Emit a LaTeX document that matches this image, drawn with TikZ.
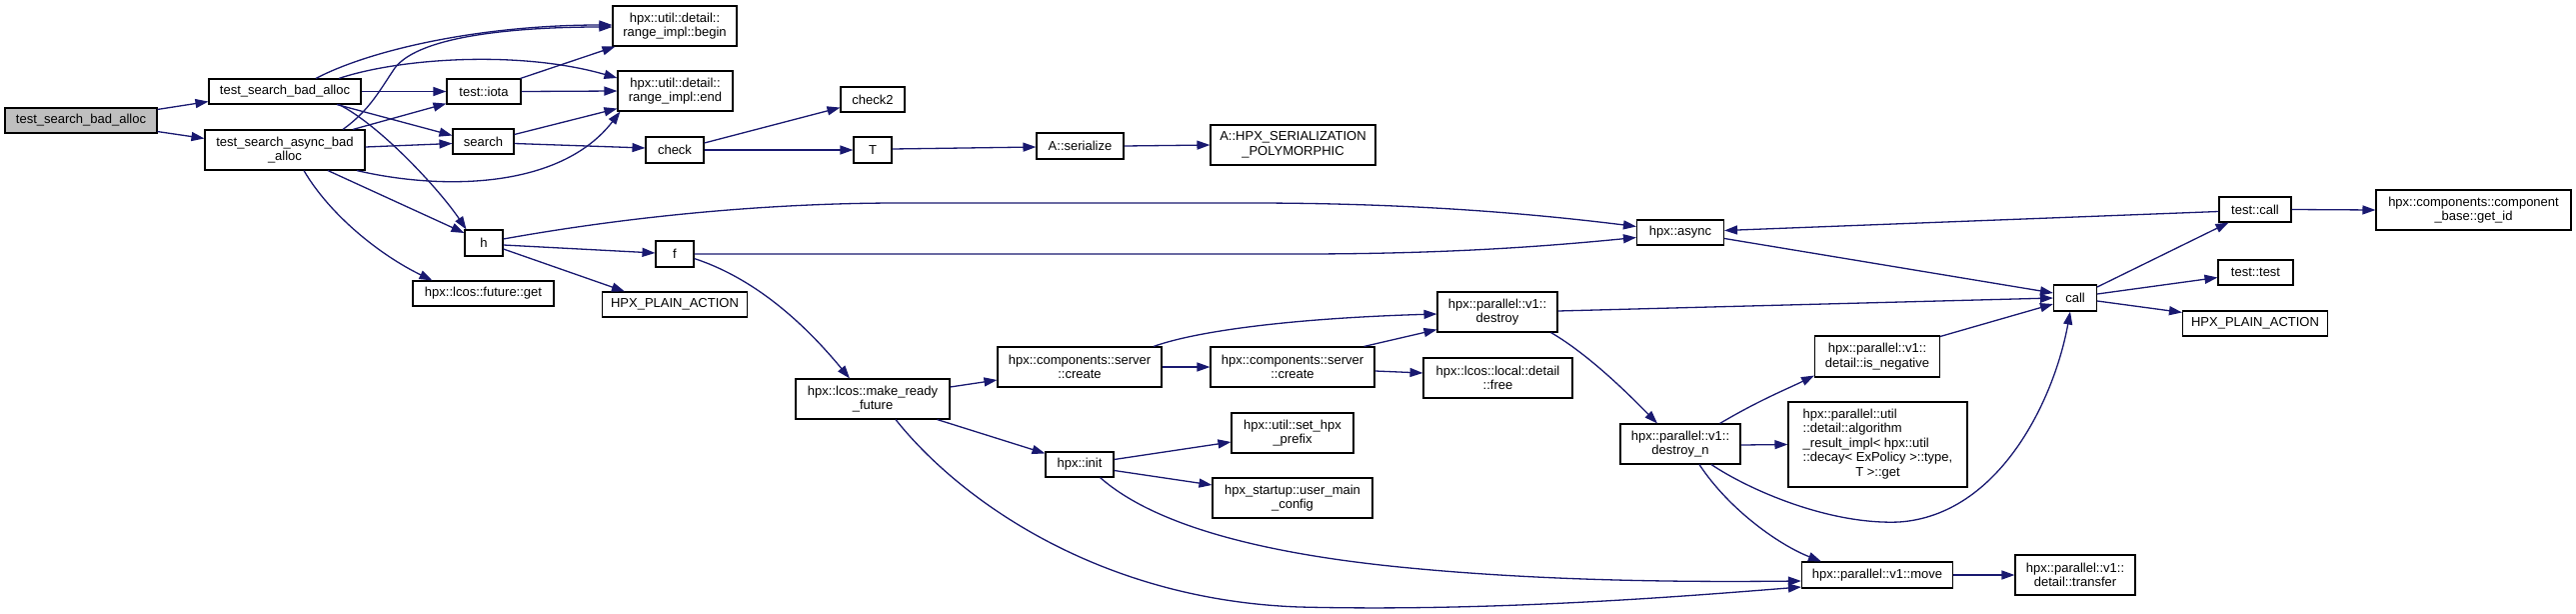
\documentclass[tikz,border=0pt]{standalone}
\usepackage{fontspec}
\setmainfont{Liberation Sans}
\usetikzlibrary{arrows.meta,calc}
\definecolor{edgeblue}{RGB}{25,25,112}
\definecolor{rootgray}{RGB}{191,191,191}
\begin{document}
\begin{tikzpicture}[x=1pt,y=-1pt,
  nd/.style={draw=black, fill=white, line width=1.1pt, inner sep=0pt, align=center,
             font=\fontsize{13}{14.5}\selectfont},
  sz/.style 2 args={minimum width=#1pt, minimum height=#2pt},
  e/.style={draw=edgeblue, line width=1.3pt, -{Triangle[length=13pt,width=9pt]}}]
\useasboundingbox (0,0) rectangle (2577,613);
% nodes
\node[nd, sz={152}{25}, fill=rootgray] (root) at (81,120.5) {test\_search\_bad\_alloc};
\node[nd, sz={152}{25}] (tsba) at (285,91.5) {test\_search\_bad\_alloc};
\node[nd, sz={160}{40}] (tsaba) at (285,150) {test\_search\_async\_bad\\\_alloc};
\node[nd, sz={74}{25}] (iota) at (484,91.5) {test::iota};
\node[nd, sz={61}{25}] (search) at (483.5,141.5) {search};
\node[nd, sz={38}{26}] (h) at (484,243) {h};
\node[nd, sz={141}{25}] (fget) at (483.5,293.5) {hpx::lcos::future::get};
\node[nd, sz={124}{40}] (begin) at (675,26) {hpx::util::detail::\\range\_impl::begin};
\node[nd, sz={115}{40}] (end) at (675.5,91) {hpx::util::detail::\\range\_impl::end};
\node[nd, sz={58}{26}] (check) at (675,150) {check};
\node[nd, sz={38}{26}] (f) at (675,254) {f};
\node[nd, sz={145}{25}] (hpa1) at (675,304.5) {HPX\_PLAIN\_ACTION};
\node[nd, sz={64}{25}] (check2) at (873,99.5) {check2};
\node[nd, sz={38}{26}] (T) at (873,150) {T};
\node[nd, sz={154}{40}] (mrf) at (873,399) {hpx::lcos::make\_ready\\\_future};
\node[nd, sz={87}{26}] (ser) at (1080.5,146) {A::serialize};
\node[nd, sz={164}{40}] (create1) at (1080,367) {hpx::components::server\\::create};
\node[nd, sz={68}{25}] (init) at (1080,464.5) {hpx::init};
\node[nd, sz={165}{40}] (hpxser) at (1293.5,145) {A::HPX\_SERIALIZATION\\\_POLYMORPHIC};
\node[nd, sz={164}{40}] (create2) at (1293,367) {hpx::components::server\\::create};
\node[nd, sz={122}{40}] (prefix) at (1293,433) {hpx::util::set\_hpx\\\_prefix};
\node[nd, sz={160}{40}] (umc) at (1293,498) {hpx\_startup::user\_main\\\_config};
\node[nd, sz={120}{40}] (destroy) at (1498,312) {hpx::parallel::v1::\\destroy};
\node[nd, sz={149}{40}] (free) at (1498.5,378) {hpx::lcos::local::detail\\::free};
\node[nd, sz={87}{25}] (async) at (1681,232.5) {hpx::async};
\node[nd, sz={120}{40}] (destroyn) at (1681,444) {hpx::parallel::v1::\\destroy\_n};
\node[nd, sz={125}{41}] (isneg) at (1878,356.5) {hpx::parallel::v1::\\detail::is\_negative};
\node[nd, sz={179}{85}] (algo) at (1878.5,444.5) {\begin{tabular}{@{}l@{}}hpx::parallel::util\\::detail::algorithm\\\_result\_impl< hpx::util\\::decay< ExPolicy >::type,\\\multicolumn{1}{@{}c@{}}{T >::get}\end{tabular}};
\node[nd, sz={151}{26}] (move) at (1878,575) {hpx::parallel::v1::move};
\node[nd, sz={43}{26}] (call) at (2076,298) {call};
\node[nd, sz={120}{40}] (transfer) at (2076,575) {hpx::parallel::v1::\\detail::transfer};
\node[nd, sz={72}{25}] (tcall) at (2256,209.5) {test::call};
\node[nd, sz={75}{25}] (ttest) at (2256.5,272.5) {test::test};
\node[nd, sz={145}{25}] (hpa2) at (2256,323.5) {HPX\_PLAIN\_ACTION};
\node[nd, sz={195}{40}] (getid) at (2474.5,210) {hpx::components::component\\\_base::get\_id};
% edges
\draw[e] ($(root.north east)+(0,2)$) -- ($(tsba.south west)+(0,-3)$);
\draw[e] ($(root.south east)+(0,-2)$) -- ($(tsaba.north west)+(0,9)$);
\draw[e] ($(tsba.north)+(31,0)$) .. controls (370,50) and (480,25) .. ($(begin.west)+(0,-1)$);
\draw[e] ($(tsaba.north)+(58,0)$) .. controls (370,110) and (380,90) .. (395,68) .. controls (420,35) and (520,27) .. ($(begin.west)+(0,1)$);
\draw[e] ($(tsba.north)+(54,0)$) .. controls (400,58) and (520,50) .. ($(end.west)+(0,-13)$);
\draw[e] (tsba.east) -- (iota.west);
\draw[e] ($(tsba.south)+(52,0)$) -- ($(search.west)+(0,-6)$);
\draw[e] ($(tsba.south)+(54,0)$) .. controls (380,125) and (440,190) .. ($(h.north west)+(2,0)$);
\draw[e] ($(tsaba.north)+(68,0)$) -- ($(iota.south west)+(0,-1)$);
\draw[e] ($(tsaba.east)+(0,-3)$) -- ($(search.west)+(0,2)$);
\draw[e] ($(tsaba.south)+(72,0)$) .. controls (440,190) and (560,190) .. ($(end.south west)+(3,0)$);
\draw[e] ($(tsaba.south)+(43,0)$) -- ($(h.west)+(0,-10)$);
\draw[e] ($(tsaba.south)+(19,0)$) .. controls (330,215) and (380,255) .. ($(fget.north west)+(20,0)$);
\draw[e] ($(iota.north east)+(-1,0)$) -- ($(begin.south west)+(3,0)$);
\draw[e] (iota.east) -- (end.west);
\draw[e] ($(search.east)+(0,-7)$) -- ($(end.south west)+(0,-3)$);
\draw[e] ($(search.east)+(0,2)$) -- ($(check.west)+(0,-2)$);
\draw[e] ($(check.east)+(0,-7)$) -- ($(check2.south west)+(0,-5)$);
\draw[e] (check.east) -- (T.west);
\draw[e] ($(T.east)+(0,-1)$) -- ($(ser.west)+(0,1)$);
\draw[e] (ser.east) -- (hpxser.west);
\draw[e] ($(h.east)+(0,-4)$) .. controls (620,218) and (760,203) .. (900,203) -- (1250,203) .. controls (1400,203) and (1520,212) .. ($(async.west)+(0,-6)$);
\draw[e] ($(h.east)+(0,2)$) -- ($(f.west)+(0,-1)$);
\draw[e] ($(h.east)+(0,6)$) -- ($(hpa1.north west)+(23,0)$);
\draw[e] (f.east) -- (1300,254) .. controls (1450,254) and (1550,246) .. ($(async.west)+(0,5)$);
\draw[e] ($(f.south east)+(0,-9)$) .. controls (760,280) and (810,330) .. ($(mrf.north)+(-23,0)$);
\draw[e] ($(mrf.east)+(0,-12)$) -- ($(create1.west)+(0,13)$);
\draw[e] ($(mrf.south east)+(-13,0)$) -- ($(init.north west)+(0,2)$);
\draw[e] ($(mrf.south)+(23,0)$) .. controls (960,500) and (1100,600) .. (1300,607) .. controls (1500,612) and (1700,595) .. ($(move.west)+(0,12)$);
\draw[e] ($(init.south east)+(-14,0)$) .. controls (1160,530) and (1280,555) .. (1400,567) .. controls (1550,582) and (1700,582) .. ($(move.west)+(0,6)$);
\draw[e] ($(create1.north)+(74,0)$) .. controls (1200,330) and (1300,318) .. ($(destroy.west)+(0,2)$);
\draw[e] (create1.east) -- (create2.west);
\draw[e] ($(create2.north east)+(-11,0)$) -- ($(destroy.south west)+(0,-3)$);
\draw[e] ($(create2.east)+(0,4)$) -- ($(free.west)+(0,-5)$);
\draw[e] ($(init.east)+(0,-5)$) -- ($(prefix.west)+(0,9)$);
\draw[e] ($(init.east)+(0,6)$) -- ($(umc.west)+(0,-13)$);
\draw[e] ($(destroy.east)+(0,-1)$) -- (call.west);
\draw[e] ($(destroy.south east)+(-7,0)$) .. controls (1590,355) and (1630,395) .. ($(destroyn.north)+(-23,0)$);
\draw[e] ($(async.east)+(0,6)$) -- ($(call.west)+(0,-5)$);
\draw[e] ($(tcall.west)+(0,2)$) -- ($(async.east)+(0,-2)$);
\draw[e] ($(destroyn.north east)+(-21,0)$) .. controls (1760,400) and (1790,388) .. ($(isneg.south west)+(0,-2)$);
\draw[e] ($(destroyn.east)+(0,1)$) -- (algo.west);
\draw[e] ($(destroyn.south)+(31,0)$) .. controls (1750,490) and (1830,525) .. (1900,522) .. controls (2000,515) and (2055,400) .. ($(call.south)+(-5,0)$);
\draw[e] ($(destroyn.south)+(19,0)$) .. controls (1730,510) and (1780,545) .. ($(move.north west)+(20,0)$);
\draw[e] ($(isneg.north east)+(0,1)$) -- ($(call.west)+(0,6)$);
\draw[e] (move.east) -- (transfer.west);
\draw[e] ($(call.east)+(0,-11)$) -- ($(tcall.south west)+(10,0)$);
\draw[e] ($(call.east)+(0,-4)$) -- ($(ttest.west)+(0,5)$);
\draw[e] ($(call.east)+(0,3)$) -- ($(hpa2.north west)+(0,2)$);
\draw[e] (tcall.east) -- (getid.west);
\end{tikzpicture}
\end{document}
